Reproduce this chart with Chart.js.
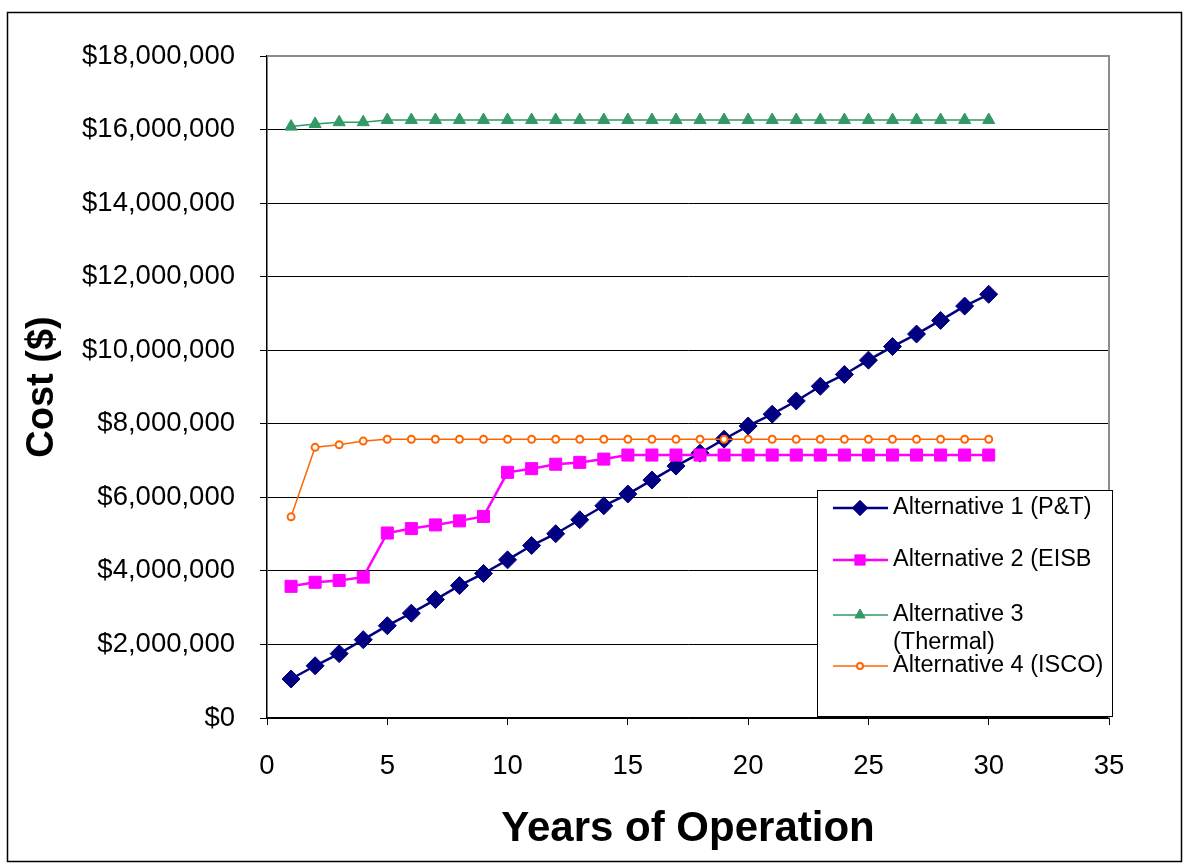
<!DOCTYPE html>
<html>
<head>
<meta charset="utf-8">
<title>Cost vs Years of Operation</title>
<script src="https://cdn.jsdelivr.net/npm/chart.js@4.4.1/dist/chart.umd.min.js"></script>
<style>
  html, body { margin: 0; padding: 0; background: #fff; }
  #chart { display: block; }
</style>
</head>
<body>
<canvas id="chart" width="1185" height="867"></canvas>
<script>
// --- DATA ---
const years = [1, 2, 3, 4, 5, 6, 7, 8, 9, 10, 11, 12, 13, 14, 15,
               16, 17, 18, 19, 20, 21, 22, 23, 24, 25, 26, 27, 28, 29, 30];

const alt1Cost = [1060000, 1420000, 1750000, 2130000, 2510000, 2850000, 3220000, 3600000, 3930000, 4300000,
                  4690000, 5010000, 5390000, 5770000, 6090000, 6470000, 6850000, 7200000, 7580000, 7940000,
                  8260000, 8620000, 9020000, 9340000, 9730000, 10100000, 10440000, 10810000, 11200000, 11520000];

const alt2Cost = [3580000, 3690000, 3740000, 3830000, 5030000, 5150000, 5250000, 5360000, 5480000, 6680000,
                  6780000, 6900000, 6950000, 7040000, 7150000, 7150000, 7150000, 7150000, 7150000, 7150000,
                  7150000, 7150000, 7150000, 7150000, 7150000, 7150000, 7150000, 7150000, 7150000, 7150000];

const alt3Cost = [16080000, 16150000, 16200000, 16200000, 16260000, 16260000, 16260000, 16260000, 16260000, 16260000,
                  16260000, 16260000, 16260000, 16260000, 16260000, 16260000, 16260000, 16260000, 16260000, 16260000,
                  16260000, 16260000, 16260000, 16260000, 16260000, 16260000, 16260000, 16260000, 16260000, 16260000];

const alt4Cost = [5470000, 7360000, 7430000, 7530000, 7580000, 7580000, 7580000, 7580000, 7580000, 7580000,
                  7580000, 7580000, 7580000, 7580000, 7580000, 7580000, 7580000, 7580000, 7580000, 7580000,
                  7580000, 7580000, 7580000, 7580000, 7580000, 7580000, 7580000, 7580000, 7580000, 7580000];

const seriesLabels = ['Alternative 1 (P&T)', 'Alternative 2 (EISB', ['Alternative 3', '(Thermal)'], 'Alternative 4 (ISCO)'];

const FONT = "'Liberation Sans', Arial, sans-serif";

// --- LAYOUT (pixel targets) ---
const PLOT = { left: 267, top: 56, right: 1109, bottom: 718 };
const PAD = { left: 8, top: PLOT.top, right: 1185 - PLOT.right, bottom: 8 };

function toPoints(values) {
    return years.map((yr, i) => ({ x: yr, y: values[i] }));
}

// draws one legend marker like the chart's own points
function drawMarker(ctx, style, x, y, r) {
    ctx.beginPath();
    if (style === 'rectRot') {
        ctx.moveTo(x, y - r); ctx.lineTo(x + r, y); ctx.lineTo(x, y + r); ctx.lineTo(x - r, y);
        ctx.closePath();
    } else if (style === 'rect') {
        const s = r * Math.SQRT1_2;
        ctx.rect(x - s, y - s, 2 * s, 2 * s);
    } else if (style === 'triangle') {
        ctx.moveTo(x, y - r);
        ctx.lineTo(x + r * Math.sin(Math.PI / 3), y + r / 2);
        ctx.lineTo(x - r * Math.sin(Math.PI / 3), y + r / 2);
        ctx.closePath();
    } else {
        ctx.arc(x, y, r, 0, Math.PI * 2);
    }
    ctx.fill();
    ctx.stroke();
}

const framePlugin = {
    id: 'frame',
    beforeDraw(chart) {
        const ctx = chart.ctx;
        ctx.save();
        ctx.fillStyle = '#fff';
        ctx.fillRect(0, 0, chart.width, chart.height);
        ctx.restore();
    },
    afterDraw(chart) {
        const ctx = chart.ctx;
        const a = chart.chartArea;
        ctx.save();

        // grey plot-area border on top and right
        ctx.strokeStyle = '#8c8c8c';
        ctx.lineWidth = 2;
        ctx.beginPath();
        ctx.moveTo(a.left, a.top);
        ctx.lineTo(a.right, a.top);
        ctx.lineTo(a.right, a.bottom);
        ctx.stroke();

        // outer chart border
        ctx.strokeStyle = '#000';
        ctx.lineWidth = 1.5;
        ctx.strokeRect(7.5, 12.5, 1174, 849);

        // legend box
        const box = { x: 817.5, y: 490.5, w: 295, h: 226 };
        ctx.fillStyle = '#fff';
        ctx.fillRect(box.x, box.y, box.w, box.h);
        ctx.strokeStyle = '#000';
        ctx.lineWidth = 1;
        ctx.strokeRect(box.x, box.y, box.w, box.h);

        const rowsY = [508, 560, 615, 666];
        ctx.font = '23.5px ' + FONT;
        ctx.textBaseline = 'middle';
        chart.data.datasets.forEach((ds, i) => {
            const y = rowsY[i];
            ctx.strokeStyle = ds.borderColor;
            ctx.lineWidth = ds.borderWidth;
            ctx.beginPath();
            ctx.moveTo(833, y);
            ctx.lineTo(888, y);
            ctx.stroke();

            ctx.fillStyle = ds.pointBackgroundColor;
            ctx.strokeStyle = ds.pointBorderColor;
            ctx.lineWidth = ds.pointBorderWidth;
            const r = ds.pointStyle === 'circle' ? 3 : ds.pointRadius * 0.85;
            drawMarker(ctx, ds.pointStyle, 860, y, r);

            ctx.fillStyle = '#000';
            const text = seriesLabels[i];
            if (Array.isArray(text)) {
                text.forEach((t, k) => ctx.fillText(t, 893, y + k * 28));
            } else {
                ctx.fillText(text, 893, y);
            }
        });
        ctx.restore();
    }
};

const chart = new Chart(document.getElementById('chart'), {
    type: 'line',
    data: {
        datasets: [
            {
                label: 'Alternative 1 (P&T)',
                data: toPoints(alt1Cost),
                borderColor: '#000080',
                backgroundColor: '#000080',
                borderWidth: 2.5,
                pointStyle: 'rectRot',
                pointRadius: 9,
                pointBackgroundColor: '#000080',
                pointBorderColor: '#000080',
                pointBorderWidth: 1,
                order: 4
            },
            {
                label: 'Alternative 2 (EISB',
                data: toPoints(alt2Cost),
                borderColor: '#ff00ff',
                backgroundColor: '#ff00ff',
                borderWidth: 2.5,
                pointStyle: 'rect',
                pointRadius: 8.5,
                pointBackgroundColor: '#ff00ff',
                pointBorderColor: '#ff00ff',
                pointBorderWidth: 1,
                order: 3
            },
            {
                label: 'Alternative 3 (Thermal)',
                data: toPoints(alt3Cost),
                borderColor: '#339966',
                backgroundColor: '#339966',
                borderWidth: 1.5,
                pointStyle: 'triangle',
                pointRadius: 7,
                pointBackgroundColor: '#339966',
                pointBorderColor: '#339966',
                pointBorderWidth: 1,
                order: 2
            },
            {
                label: 'Alternative 4 (ISCO)',
                data: toPoints(alt4Cost),
                borderColor: '#ff6600',
                backgroundColor: '#ffffff',
                borderWidth: 1.5,
                pointStyle: 'circle',
                pointRadius: 3.5,
                pointBackgroundColor: '#ffffff',
                pointBorderColor: '#ff6600',
                pointBorderWidth: 2,
                order: 1
            }
        ]
    },
    options: {
        responsive: false,
        animation: false,
        devicePixelRatio: 1,
        layout: { padding: PAD },
        elements: { line: { tension: 0 } },
        plugins: {
            legend: { display: false },
            tooltip: { enabled: false }
        },
        scales: {
            x: {
                type: 'linear',
                min: 0,
                max: 35,
                ticks: {
                    stepSize: 5,
                    color: '#000',
                    font: { family: FONT, size: 27.5 },
                    padding: 25,
                    maxRotation: 0
                },
                grid: {
                    drawOnChartArea: false,
                    drawTicks: true,
                    tickLength: 7,
                    tickColor: '#000'
                },
                border: { display: true, color: '#000', width: 1.5 },
                title: {
                    display: true,
                    text: 'Years of Operation',
                    color: '#000',
                    font: { family: FONT, size: 42, weight: 'bold' },
                    padding: { top: 0, bottom: 4 }
                },
                afterFit(scale) { scale.height = (867 - PAD.bottom) - PLOT.bottom; }
            },
            y: {
                type: 'linear',
                min: 0,
                max: 18000000,
                ticks: {
                    stepSize: 2000000,
                    color: '#000',
                    font: { family: FONT, size: 27.5 },
                    padding: 25,
                    callback: v => '$' + Number(v).toLocaleString('en-US')
                },
                grid: {
                    color: c => (c.tick && c.tick.value === 18000000) ? 'rgba(0,0,0,0)' : '#000',
                    lineWidth: 1,
                    drawTicks: true,
                    tickLength: 7,
                    tickColor: '#000'
                },
                border: { display: true, color: '#000', width: 1.5 },
                title: {
                    display: true,
                    text: 'Cost ($)',
                    color: '#000',
                    font: { family: FONT, size: 38, weight: 'bold' },
                    padding: { top: 12, bottom: 0 }
                },
                afterFit(scale) { scale.width = PLOT.left - PAD.left; }
            }
        }
    },
    plugins: [framePlugin]
});
</script>
</body>
</html>
